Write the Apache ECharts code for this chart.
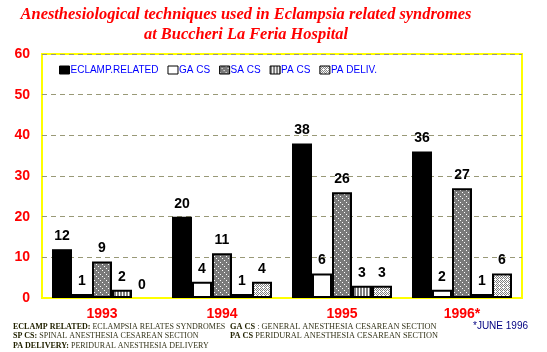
<!DOCTYPE html>
<html>
<head>
<meta charset="utf-8">
<script src="https://cdn.jsdelivr.net/npm/echarts@6/dist/echarts.min.js"></script>
<style>
  html, body { margin: 0; padding: 0; background: #fff; }
  #chart { width: 547px; height: 352px; }
</style>
</head>
<body>
<div id="chart"></div>
<script>
// data
const years = ['1993', '1994', '1995', '1996*'];
const seriesNames = ['ECLAMP.RELATED', 'GA CS', 'SA CS', 'PA CS', 'PA DELIV.'];
const eclampRelated = [12, 20, 38, 36];
const gaCs = [1, 4, 6, 2];
const saCs = [9, 11, 26, 27];
const paCs = [2, 1, 3, 1];
const paDeliv = [0, 4, 3, 6];
const yTicks = [0, 10, 20, 30, 40, 50, 60];

// small fill patterns
function pattern(w, h, bg, fg, pixels) {
    const c = document.createElement('canvas');
    c.width = w; c.height = h;
    const ctx = c.getContext('2d');
    ctx.fillStyle = bg;
    ctx.fillRect(0, 0, w, h);
    ctx.fillStyle = fg;
    pixels.forEach(p => ctx.fillRect(p[0], p[1], 1, 1));
    return { image: c, repeat: 'repeat' };
}
const saFill = pattern(6, 6, '#7a7a7a', '#ffffff', [[0, 0], [2, 2], [4, 4]]);
const paFill = pattern(3, 1, '#808080', '#ffffff', [[2, 0]]);
const delivFill = pattern(4, 4, '#ffffff', '#808080', [[0, 0], [2, 0], [1, 1], [3, 1], [0, 2], [2, 2], [1, 3]]);

const values = [eclampRelated, gaCs, saCs, paCs, paDeliv];
const fills = ['#000000', '#ffffff', saFill, paFill, delivFill];

const chart = echarts.init(document.getElementById('chart'));
chart.setOption({
    animation: false,
    backgroundColor: '#ffffff',
    title: {
        text: 'Anesthesiological techniques used in Eclampsia related syndromes\nat Buccheri La Feria Hospital',
        left: 241,
        top: 0,
        textAlign: 'center',
        textStyle: {
            color: '#ff0000',
            fontFamily: 'Liberation Serif',
            fontStyle: 'italic',
            fontWeight: 'bold',
            fontSize: 16.4,
            lineHeight: 20
        }
    },
    legend: {
        left: 54,
        top: 60,
        icon: 'rect',
        itemWidth: 10,
        itemHeight: 8,
        itemGap: 9,
        data: seriesNames,
        textStyle: { color: '#0000ff', fontFamily: 'Arial, Liberation Sans', fontSize: 10, padding: [0, 0, 0, -4] },
        itemStyle: { borderColor: '#000', borderWidth: 1 }
    },
    grid: {
        left: 42, right: 25, top: 54, bottom: 54,
        show: true,
        borderColor: '#ffff00',
        borderWidth: 2
    },
    xAxis: {
        type: 'category',
        data: years,
        axisLine: { show: true, lineStyle: { color: '#ffff00', width: 2 } },
        axisTick: { show: false },
        axisLabel: {
            color: '#ff0000', fontWeight: 'bold', fontSize: 14,
            fontFamily: 'Arial, Liberation Sans', margin: 9
        }
    },
    yAxis: {
        type: 'value',
        min: yTicks[0],
        max: yTicks[yTicks.length - 1],
        interval: 10,
        axisLine: { show: false },
        axisTick: { show: false },
        axisLabel: {
            color: '#ff0000', fontWeight: 'bold', fontSize: 14,
            fontFamily: 'Arial, Liberation Sans', margin: 12
        },
        splitLine: { lineStyle: { color: '#999977', type: [5, 4], width: 1 } }
    },
    series: seriesNames.map((name, i) => ({
        name: name,
        type: 'bar',
        data: values[i].map(v => v === 0 ? { value: v, itemStyle: { borderWidth: 0 } } : v),
        barWidth: 20,
        barGap: '0%',
        itemStyle: {
            color: fills[i],
            borderColor: '#000000',
            borderWidth: i === 0 ? 0 : 2
        },
        label: {
            show: true,
            position: 'top',
            distance: 6,
            color: '#000000',
            fontWeight: 'bold',
            fontSize: 14,
            fontFamily: 'Arial, Liberation Sans'
        }
    })),
    graphic: [
        {
            type: 'text', left: 13, top: 322,
            style: {
                text: '{b|ECLAMP RELATED:} ECLAMPSIA RELATES SYNDROMES\n{b|SP CS:} SPINAL ANESTHESIA CESAREAN SECTION\n{b|PA DELIVERY:} PERIDURAL ANESTHESIA DELIVERY',
                font: '8px "Liberation Serif"',
                fill: '#333319',
                lineHeight: 9.5,
                rich: { b: { fontWeight: 'bold', fontSize: 8, fontFamily: 'Liberation Serif', fill: '#222200', lineHeight: 9.5 } }
            }
        },
        {
            type: 'text', left: 230, top: 322,
            style: {
                text: '{b|GA CS} : GENERAL ANESTHESIA CESAREAN SECTION\n{b|PA CS} PERIDURAL ANESTHESIA CESAREAN SECTION',
                font: '8.3px "Liberation Serif"',
                fill: '#333319',
                lineHeight: 9.5,
                rich: { b: { fontWeight: 'bold', fontSize: 8.3, fontFamily: 'Liberation Serif', fill: '#222200', lineHeight: 9.5 } }
            }
        },
        {
            type: 'text', left: 473, top: 321,
            style: {
                text: '*JUNE 1996',
                font: '10px Arial, "Liberation Sans"',
                fill: '#000080'
            }
        }
    ]
});
</script>
</body>
</html>
